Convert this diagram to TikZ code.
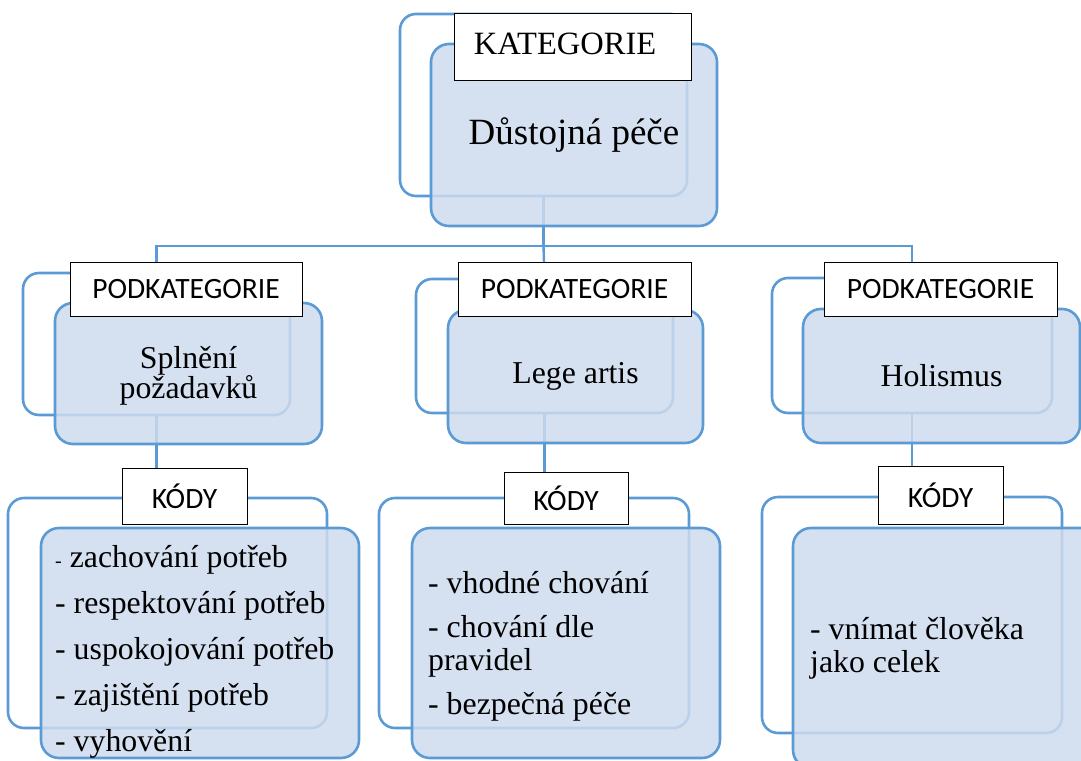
\documentclass[tikz,border=0pt]{standalone}
\usepackage{fontspec}
\setmainfont{Liberation Serif}
\newfontfamily\labelfont{Carlito}
\begin{document}
\definecolor{boxline}{RGB}{91,155,213}
\definecolor{boxfill}{RGB}{206,219,237}
\begin{tikzpicture}[x=1pt,y=-1pt,
  backbox/.style={draw=boxline, line width=2.6pt, rounded corners=16pt, inner sep=0pt, outer sep=0pt},
  frontbox/.style={draw=boxline, line width=2.6pt, rounded corners=18pt, fill=boxfill, fill opacity=0.85, text opacity=1, inner sep=0pt, outer sep=0pt},
  tag/.style={draw=black, line width=1pt, fill=white, inner sep=0pt, outer sep=0pt},
  tagsans/.style={tag, font=\labelfont\fontsize{29.5}{29.5}\selectfont},
  bodytext/.style={font=\fontsize{31.8}{30}\selectfont, align=center},
  codetext/.style={font=\fontsize{31.8}{33}\selectfont, align=left, anchor=west, inner sep=0pt},
  link/.style={draw=boxline, line width=2.4pt}
]
\useasboundingbox (0,0) rectangle (1081,760);
\clip (0,0) rectangle (1081,760);

% outlines standing behind each box
\node[backbox, minimum width=287pt, minimum height=182pt] (topback) at (543.5,105) {};
\node[backbox, minimum width=267pt, minimum height=142pt] (lback) at (156.5,344) {};
\node[backbox, minimum width=257pt, minimum height=134pt] (mback) at (544.5,346) {};
\node[backbox, minimum width=280pt, minimum height=135pt] (rback) at (912,345.5) {};
\node[backbox, minimum width=319pt, minimum height=230pt] (lkback) at (167.5,613) {};
\node[backbox, minimum width=310pt, minimum height=230pt] (mkback) at (534,613) {};
\node[backbox, minimum width=300pt, minimum height=236pt] (rkback) at (912,615) {};

% connectors of the hierarchy
\draw[link] (topback.south) -- ++(0,50) coordinate (bus) -| (lback.north);
\draw[link] (bus) -| (rback.north);
\draw[link] (bus) -- (mback.north);
\draw[link] (lback.south) -- (lback.south |- lkback.north);
\draw[link] (mback.south) -- (mback.south |- mkback.north);
\draw[link] (rback.south) -- (rback.south |- rkback.north);

% filled boxes with their texts
\node[frontbox, minimum width=286pt, minimum height=182pt, font=\fontsize{37}{37}\selectfont] (topfront) at (574,135) {Důstojná péče};
\node[frontbox, minimum width=267pt, minimum height=141pt] (lfront) at (188.5,373.5) {};
\node[bodytext] (ltext) at (188.5,376) {Splnění\\požadavků};
\node[frontbox, minimum width=255pt, minimum height=133pt] (mfront) at (575.5,376.5) {};
\node[bodytext] (mtext) at (mfront.center) {Lege artis};
\node[frontbox, minimum width=277pt, minimum height=134pt] (rfront) at (941.5,376) {};
\node[bodytext] (rtext) at (rfront.center) {Holismus};

\node[frontbox, minimum width=318pt, minimum height=230pt] (lkfront) at (200,643) {};
\node[codetext] (lktext) at (55,652) {%
  {\fontsize{20}{20}\selectfont -} zachování potřeb\\[13pt]
  - respektování potřeb\\[13pt]
  - uspokojování potřeb\\[13pt]
  - zajištění potřeb\\[13pt]
  - vyhovění};
\node[frontbox, minimum width=308pt, minimum height=230pt] (mkfront) at (566,643) {};
\node[codetext] (mktext) at (428,646) {%
  - vhodné chování\\[11pt]
  - chování dle\\
  pravidel\\[11pt]
  - bezpečná péče};
\node[frontbox, minimum width=318pt, minimum height=240pt] (rkfront) at (952,648) {};
\node[codetext] (rktext) at (810,648) {%
  - vnímat člověka\\
  jako celek};

% heading tags
\node[tag, minimum width=237pt, minimum height=66pt] (toptag) at (572.5,47) {};
\node[font=\fontsize{32.5}{32.5}\selectfont] (toptagtext) at (565,44) {KATEGORIE};
\node[tagsans, minimum width=232pt, minimum height=54pt] (ltag) at (186,289) {PODKATEGORIE};
\node[tagsans, minimum width=233pt, minimum height=54pt] (mtag) at (574.5,289) {PODKATEGORIE};
\node[tagsans, minimum width=233pt, minimum height=54pt] (rtag) at (940.5,289) {PODKATEGORIE};
\node[tagsans, minimum width=125pt, minimum height=56pt] (lktag) at (184.5,496) {KÓDY};
\node[tagsans, minimum width=124pt, minimum height=52pt] (mktag) at (566,498) {KÓDY};
\node[tagsans, minimum width=125pt, minimum height=58pt] (rktag) at (940.5,495) {KÓDY};
\end{tikzpicture}
\end{document}
